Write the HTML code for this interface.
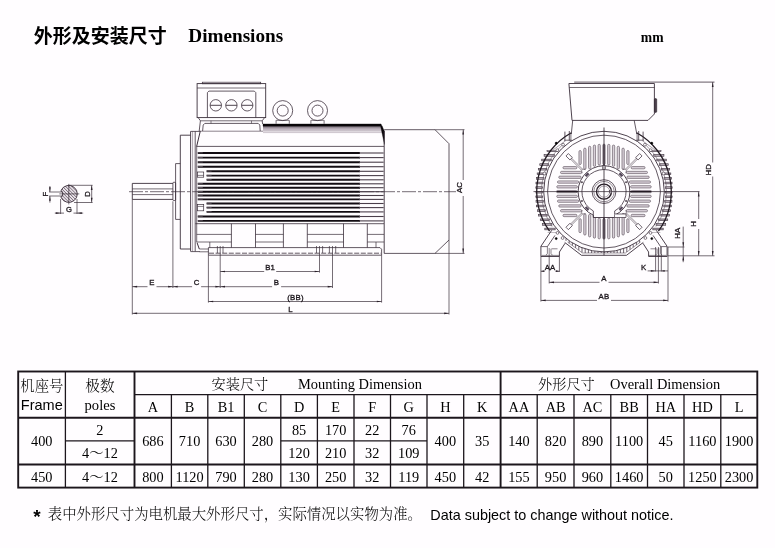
<!DOCTYPE html>
<html lang="zh"><head><meta charset="utf-8"><title>外形及安装尺寸 Dimensions</title>
<style>
html,body{margin:0;padding:0;background:#fffdff;}
body{width:775px;height:548px;overflow:hidden;}
svg{display:block;will-change:transform;opacity:0.999}
.sa{font-family:"Liberation Sans","Noto Sans CJK SC",sans-serif}
.se{font-family:"Liberation Serif","Noto Serif CJK SC",serif}
.he{font-family:"Liberation Sans","Noto Sans CJK SC",sans-serif}
</style></head><body>
<svg width="775" height="548" viewBox="0 0 775 548">
<rect x="0" y="0" width="775" height="548" fill="#fffdff"/>
<line x1="129.00" y1="191.70" x2="456.00" y2="191.70" stroke="#3b2f3b" stroke-width="0.7" stroke-dasharray="14 2 3 2"/>
<path d="M172.90,183.40 L132.30,183.40 L132.30,199.40 L172.90,199.40" fill="none" stroke="#3b2f3b" stroke-width="0.9" stroke-linejoin="round" />
<line x1="132.30" y1="188.90" x2="172.90" y2="188.90" stroke="#3b2f3b" stroke-width="0.7" />
<line x1="132.30" y1="194.60" x2="172.90" y2="194.60" stroke="#3b2f3b" stroke-width="0.7" />
<rect x="172.90" y="182.30" width="2.70" height="18.20" fill="none" stroke="#3b2f3b" stroke-width="0.8" rx="0.8"/>
<path d="M180.30,163.60 L175.60,163.60 L175.60,219.40 L180.30,219.40" fill="none" stroke="#3b2f3b" stroke-width="0.8" stroke-linejoin="round" />
<path d="M190.60,135.20 L180.30,135.20 L180.30,249.00 L190.60,249.00" fill="none" stroke="#3b2f3b" stroke-width="0.9" stroke-linejoin="round" />
<line x1="190.60" y1="131.40" x2="190.60" y2="251.40" stroke="#3b2f3b" stroke-width="0.9" />
<line x1="192.60" y1="131.40" x2="192.60" y2="251.40" stroke="#7a6e7a" stroke-width="0.6" />
<line x1="195.20" y1="131.40" x2="195.20" y2="251.40" stroke="#3b2f3b" stroke-width="0.8" />
<line x1="196.70" y1="146.40" x2="196.70" y2="242.00" stroke="#3b2f3b" stroke-width="0.7" />
<line x1="190.60" y1="131.40" x2="200.20" y2="131.40" stroke="#3b2f3b" stroke-width="0.8" />
<line x1="190.60" y1="251.60" x2="200.00" y2="251.60" stroke="#3b2f3b" stroke-width="0.8" />
<line x1="200.30" y1="131.00" x2="196.60" y2="146.60" stroke="#3b2f3b" stroke-width="1.0" />
<line x1="199.50" y1="131.20" x2="384.00" y2="131.20" stroke="#5a4e5a" stroke-width="0.7" />
<defs><linearGradient id="rg" x1="0" y1="0" x2="0" y2="1"><stop offset="0" stop-color="#7d717d"/><stop offset="0.45" stop-color="#c4bac4"/><stop offset="1" stop-color="#f4eff4"/></linearGradient></defs>
<rect x="263.00" y="126.00" width="119.50" height="6.80" fill="url(#rg)" stroke="none" stroke-width="0" />
<line x1="263.00" y1="127.30" x2="383.00" y2="127.30" stroke="#8a7e8a" stroke-width="0.5" />
<line x1="263.00" y1="128.90" x2="383.00" y2="128.90" stroke="#a99da9" stroke-width="0.5" />
<line x1="263.00" y1="130.70" x2="383.00" y2="130.70" stroke="#b9afb9" stroke-width="0.5" />
<line x1="263.00" y1="132.60" x2="383.00" y2="132.60" stroke="#a99da9" stroke-width="0.5" />
<path d="M263.00,123.90 L381.00,123.90 L384.40,131.00 L384.40,144.50 L380.60,126.20 L263.00,126.20 Z" fill="#0a060a" stroke="#000" stroke-width="0.3" stroke-linejoin="round" />
<line x1="196.70" y1="146.40" x2="384.00" y2="146.40" stroke="#3b2f3b" stroke-width="0.8" />
<line x1="195.40" y1="223.70" x2="384.00" y2="223.70" stroke="#3b2f3b" stroke-width="0.8" />
<line x1="197.80" y1="153.00" x2="360.00" y2="153.00" stroke="#120c12" stroke-width="1.9" />
<line x1="359.00" y1="153.00" x2="383.60" y2="153.00" stroke="#4a3e4a" stroke-width="1.1" />
<line x1="197.80" y1="152.80" x2="202.80" y2="152.80" stroke="#6a5e6a" stroke-width="0.8" />
<line x1="197.80" y1="157.60" x2="360.00" y2="157.60" stroke="#120c12" stroke-width="1.9" />
<line x1="359.00" y1="157.60" x2="383.60" y2="157.60" stroke="#4a3e4a" stroke-width="1.1" />
<line x1="197.80" y1="157.40" x2="202.80" y2="157.40" stroke="#6a5e6a" stroke-width="0.8" />
<line x1="197.80" y1="162.20" x2="360.00" y2="162.20" stroke="#120c12" stroke-width="1.9" />
<line x1="359.00" y1="162.20" x2="383.60" y2="162.20" stroke="#4a3e4a" stroke-width="1.1" />
<line x1="197.80" y1="162.00" x2="202.80" y2="162.00" stroke="#6a5e6a" stroke-width="0.8" />
<line x1="197.80" y1="166.70" x2="360.00" y2="166.70" stroke="#120c12" stroke-width="1.9" />
<line x1="359.00" y1="166.70" x2="383.60" y2="166.70" stroke="#4a3e4a" stroke-width="1.1" />
<line x1="197.80" y1="166.50" x2="202.80" y2="166.50" stroke="#6a5e6a" stroke-width="0.8" />
<line x1="206.60" y1="171.30" x2="360.00" y2="171.30" stroke="#120c12" stroke-width="1.9" />
<line x1="359.00" y1="171.30" x2="383.60" y2="171.30" stroke="#4a3e4a" stroke-width="1.1" />
<line x1="206.60" y1="171.10" x2="211.60" y2="171.10" stroke="#6a5e6a" stroke-width="0.8" />
<line x1="206.60" y1="175.60" x2="360.00" y2="175.60" stroke="#120c12" stroke-width="1.9" />
<line x1="359.00" y1="175.60" x2="383.60" y2="175.60" stroke="#4a3e4a" stroke-width="1.1" />
<line x1="206.60" y1="175.40" x2="211.60" y2="175.40" stroke="#6a5e6a" stroke-width="0.8" />
<line x1="206.60" y1="179.80" x2="360.00" y2="179.80" stroke="#120c12" stroke-width="1.9" />
<line x1="359.00" y1="179.80" x2="383.60" y2="179.80" stroke="#4a3e4a" stroke-width="1.1" />
<line x1="206.60" y1="179.60" x2="211.60" y2="179.60" stroke="#6a5e6a" stroke-width="0.8" />
<line x1="197.80" y1="183.80" x2="360.00" y2="183.80" stroke="#120c12" stroke-width="1.9" />
<line x1="359.00" y1="183.80" x2="383.60" y2="183.80" stroke="#4a3e4a" stroke-width="1.1" />
<line x1="197.80" y1="183.60" x2="202.80" y2="183.60" stroke="#6a5e6a" stroke-width="0.8" />
<line x1="197.80" y1="187.70" x2="360.00" y2="187.70" stroke="#120c12" stroke-width="1.9" />
<line x1="359.00" y1="187.70" x2="383.60" y2="187.70" stroke="#4a3e4a" stroke-width="1.1" />
<line x1="197.80" y1="187.50" x2="202.80" y2="187.50" stroke="#6a5e6a" stroke-width="0.8" />
<line x1="197.80" y1="191.70" x2="360.00" y2="191.70" stroke="#120c12" stroke-width="1.9" />
<line x1="359.00" y1="191.70" x2="383.60" y2="191.70" stroke="#4a3e4a" stroke-width="1.1" />
<line x1="197.80" y1="191.50" x2="202.80" y2="191.50" stroke="#6a5e6a" stroke-width="0.8" />
<line x1="197.80" y1="195.50" x2="360.00" y2="195.50" stroke="#120c12" stroke-width="1.9" />
<line x1="359.00" y1="195.50" x2="383.60" y2="195.50" stroke="#4a3e4a" stroke-width="1.1" />
<line x1="197.80" y1="195.30" x2="202.80" y2="195.30" stroke="#6a5e6a" stroke-width="0.8" />
<line x1="197.80" y1="199.40" x2="360.00" y2="199.40" stroke="#120c12" stroke-width="1.9" />
<line x1="359.00" y1="199.40" x2="383.60" y2="199.40" stroke="#4a3e4a" stroke-width="1.1" />
<line x1="197.80" y1="199.20" x2="202.80" y2="199.20" stroke="#6a5e6a" stroke-width="0.8" />
<line x1="206.60" y1="203.50" x2="360.00" y2="203.50" stroke="#120c12" stroke-width="1.9" />
<line x1="359.00" y1="203.50" x2="383.60" y2="203.50" stroke="#4a3e4a" stroke-width="1.1" />
<line x1="206.60" y1="203.30" x2="211.60" y2="203.30" stroke="#6a5e6a" stroke-width="0.8" />
<line x1="206.60" y1="207.60" x2="360.00" y2="207.60" stroke="#120c12" stroke-width="1.9" />
<line x1="359.00" y1="207.60" x2="383.60" y2="207.60" stroke="#4a3e4a" stroke-width="1.1" />
<line x1="206.60" y1="207.40" x2="211.60" y2="207.40" stroke="#6a5e6a" stroke-width="0.8" />
<line x1="206.60" y1="211.90" x2="360.00" y2="211.90" stroke="#120c12" stroke-width="1.9" />
<line x1="359.00" y1="211.90" x2="383.60" y2="211.90" stroke="#4a3e4a" stroke-width="1.1" />
<line x1="206.60" y1="211.70" x2="211.60" y2="211.70" stroke="#6a5e6a" stroke-width="0.8" />
<line x1="197.80" y1="216.50" x2="360.00" y2="216.50" stroke="#120c12" stroke-width="1.9" />
<line x1="359.00" y1="216.50" x2="383.60" y2="216.50" stroke="#4a3e4a" stroke-width="1.1" />
<line x1="197.80" y1="216.30" x2="202.80" y2="216.30" stroke="#6a5e6a" stroke-width="0.8" />
<line x1="197.80" y1="220.90" x2="360.00" y2="220.90" stroke="#120c12" stroke-width="1.9" />
<line x1="359.00" y1="220.90" x2="383.60" y2="220.90" stroke="#4a3e4a" stroke-width="1.1" />
<line x1="197.80" y1="220.70" x2="202.80" y2="220.70" stroke="#6a5e6a" stroke-width="0.8" />
<rect x="197.50" y="172.00" width="6.20" height="5.20" fill="none" stroke="#3b2f3b" stroke-width="0.7" />
<line x1="197.50" y1="175.40" x2="203.70" y2="175.40" stroke="#3b2f3b" stroke-width="0.6" />
<rect x="197.50" y="204.40" width="6.20" height="6.40" fill="none" stroke="#3b2f3b" stroke-width="0.7" />
<line x1="197.50" y1="206.40" x2="203.70" y2="206.40" stroke="#3b2f3b" stroke-width="0.6" />
<line x1="384.20" y1="131.00" x2="384.20" y2="253.40" stroke="#3b2f3b" stroke-width="0.9" />
<line x1="231.40" y1="223.70" x2="231.40" y2="247.60" stroke="#3b2f3b" stroke-width="0.8" />
<line x1="255.50" y1="223.70" x2="255.50" y2="247.60" stroke="#3b2f3b" stroke-width="0.8" />
<line x1="283.40" y1="223.70" x2="283.40" y2="247.60" stroke="#3b2f3b" stroke-width="0.8" />
<line x1="307.30" y1="223.70" x2="307.30" y2="247.60" stroke="#3b2f3b" stroke-width="0.8" />
<line x1="343.50" y1="223.70" x2="343.50" y2="247.60" stroke="#3b2f3b" stroke-width="0.8" />
<line x1="367.30" y1="223.70" x2="367.30" y2="247.60" stroke="#3b2f3b" stroke-width="0.8" />
<line x1="196.70" y1="234.40" x2="231.40" y2="234.40" stroke="#3b2f3b" stroke-width="0.7" />
<line x1="196.70" y1="242.00" x2="231.40" y2="242.00" stroke="#3b2f3b" stroke-width="0.7" />
<line x1="255.50" y1="234.40" x2="283.40" y2="234.40" stroke="#3b2f3b" stroke-width="0.7" />
<line x1="255.50" y1="242.00" x2="283.40" y2="242.00" stroke="#3b2f3b" stroke-width="0.7" />
<line x1="307.30" y1="234.40" x2="343.50" y2="234.40" stroke="#3b2f3b" stroke-width="0.7" />
<line x1="307.30" y1="242.00" x2="343.50" y2="242.00" stroke="#3b2f3b" stroke-width="0.7" />
<line x1="367.30" y1="234.40" x2="384.00" y2="234.40" stroke="#3b2f3b" stroke-width="0.7" />
<line x1="367.30" y1="242.00" x2="384.00" y2="242.00" stroke="#3b2f3b" stroke-width="0.7" />
<line x1="376.00" y1="242.00" x2="376.00" y2="247.60" stroke="#3b2f3b" stroke-width="0.7" />
<line x1="209.80" y1="242.00" x2="209.80" y2="247.60" stroke="#3b2f3b" stroke-width="0.7" />
<path d="M208.40,255.20 L208.40,247.60 L380.00,247.60 L381.60,249.20 L381.60,255.20" fill="none" stroke="#3b2f3b" stroke-width="0.8" stroke-linejoin="round" />
<line x1="208.40" y1="255.20" x2="381.60" y2="255.20" stroke="#3b2f3b" stroke-width="0.8" />
<line x1="209.00" y1="253.20" x2="381.00" y2="253.20" stroke="#3b2f3b" stroke-width="0.8" stroke-dasharray="5 1.6"/>
<line x1="197.00" y1="242.60" x2="199.30" y2="249.00" stroke="#3b2f3b" stroke-width="1.0" />
<line x1="199.30" y1="249.00" x2="208.40" y2="249.00" stroke="#3b2f3b" stroke-width="0.7" />
<line x1="199.60" y1="251.80" x2="208.40" y2="251.80" stroke="#3b2f3b" stroke-width="0.7" />
<line x1="217.40" y1="246.00" x2="217.40" y2="253.00" stroke="#3b2f3b" stroke-width="0.7" />
<line x1="223.00" y1="246.00" x2="223.00" y2="253.00" stroke="#3b2f3b" stroke-width="0.7" />
<line x1="316.50" y1="246.00" x2="316.50" y2="253.00" stroke="#3b2f3b" stroke-width="0.7" />
<line x1="322.60" y1="246.00" x2="322.60" y2="253.00" stroke="#3b2f3b" stroke-width="0.7" />
<line x1="329.40" y1="246.00" x2="329.40" y2="253.00" stroke="#3b2f3b" stroke-width="0.7" />
<line x1="335.70" y1="246.00" x2="335.70" y2="253.00" stroke="#3b2f3b" stroke-width="0.7" />
<rect x="202.30" y="82.20" width="58.40" height="1.60" fill="none" stroke="#3b2f3b" stroke-width="0.7" />
<rect x="197.10" y="83.60" width="68.60" height="34.00" fill="none" stroke="#3b2f3b" stroke-width="0.9" />
<line x1="197.10" y1="88.00" x2="265.70" y2="88.00" stroke="#3b2f3b" stroke-width="0.7" />
<path d="M207.40,117.60 L207.40,92.60 L208.90,91.10 L254.30,91.10 L255.80,92.60 L255.80,117.60" fill="none" stroke="#3b2f3b" stroke-width="0.8" stroke-linejoin="round" />
<circle cx="215.80" cy="105.30" r="5.70" fill="none" stroke="#3b2f3b" stroke-width="0.8" />
<line x1="210.20" y1="105.30" x2="221.40" y2="105.30" stroke="#3b2f3b" stroke-width="0.9" />
<circle cx="231.40" cy="105.30" r="5.70" fill="none" stroke="#3b2f3b" stroke-width="0.8" />
<line x1="225.80" y1="105.30" x2="237.00" y2="105.30" stroke="#3b2f3b" stroke-width="0.9" />
<circle cx="247.20" cy="105.30" r="5.70" fill="none" stroke="#3b2f3b" stroke-width="0.8" />
<line x1="241.60" y1="105.30" x2="252.80" y2="105.30" stroke="#3b2f3b" stroke-width="0.9" />
<path d="M198.20,117.60 L200.40,120.80 L199.20,131.00" fill="none" stroke="#3b2f3b" stroke-width="0.8" stroke-linejoin="round" />
<path d="M264.60,117.60 L262.20,120.80 L262.60,124.00" fill="none" stroke="#3b2f3b" stroke-width="0.8" stroke-linejoin="round" />
<line x1="200.40" y1="120.80" x2="262.20" y2="120.80" stroke="#3b2f3b" stroke-width="0.7" />
<path d="M202.60,131.00 L203.20,125.00 L204.80,123.40 L258.20,123.40 L259.80,125.00 L260.20,131.00" fill="none" stroke="#3b2f3b" stroke-width="0.8" stroke-linejoin="round" />
<line x1="211.00" y1="120.80" x2="211.00" y2="123.40" stroke="#3b2f3b" stroke-width="0.6" />
<line x1="251.50" y1="120.80" x2="251.50" y2="123.40" stroke="#3b2f3b" stroke-width="0.6" />
<circle cx="282.70" cy="110.60" r="10.00" fill="none" stroke="#3b2f3b" stroke-width="0.8" />
<circle cx="282.70" cy="110.60" r="5.50" fill="none" stroke="#3b2f3b" stroke-width="0.8" />
<path d="M276.10,123.80 L276.10,120.60 L277.10,119.60" fill="none" stroke="#3b2f3b" stroke-width="0.7" stroke-linejoin="round" />
<path d="M289.30,123.80 L289.30,120.60 L288.30,119.60" fill="none" stroke="#3b2f3b" stroke-width="0.7" stroke-linejoin="round" />
<line x1="276.50" y1="120.40" x2="288.90" y2="120.40" stroke="#3b2f3b" stroke-width="0.6" />
<circle cx="317.50" cy="110.60" r="10.00" fill="none" stroke="#3b2f3b" stroke-width="0.8" />
<circle cx="317.50" cy="110.60" r="5.50" fill="none" stroke="#3b2f3b" stroke-width="0.8" />
<path d="M310.90,123.80 L310.90,120.60 L311.90,119.60" fill="none" stroke="#3b2f3b" stroke-width="0.7" stroke-linejoin="round" />
<path d="M324.10,123.80 L324.10,120.60 L323.10,119.60" fill="none" stroke="#3b2f3b" stroke-width="0.7" stroke-linejoin="round" />
<line x1="311.30" y1="120.40" x2="323.70" y2="120.40" stroke="#3b2f3b" stroke-width="0.6" />
<path d="M384.20,129.70 L435.00,129.70 L449.00,143.70 L449.00,240.00 L435.00,253.40 L384.20,253.40" fill="none" stroke="#3b2f3b" stroke-width="0.8" stroke-linejoin="round" />
<line x1="435.00" y1="129.70" x2="464.50" y2="129.70" stroke="#3b2f3b" stroke-width="0.7" />
<line x1="435.00" y1="253.40" x2="464.50" y2="253.40" stroke="#3b2f3b" stroke-width="0.7" />
<line x1="463.20" y1="129.70" x2="463.20" y2="180.00" stroke="#3b2f3b" stroke-width="0.7" />
<line x1="463.20" y1="196.00" x2="463.20" y2="253.40" stroke="#3b2f3b" stroke-width="0.7" />
<polygon points="463.20,129.70 462.35,134.50 464.05,134.50" fill="#2a202a"/>
<polygon points="463.20,253.40 462.35,248.60 464.05,248.60" fill="#2a202a"/>
<text class="sa" x="461.70" y="187.60" font-size="7.8" text-anchor="middle" font-weight="normal" fill="#1a141a" transform="rotate(-90 461.70 187.60)"  stroke="#1a141a" stroke-width="0.3">AC</text>
<line x1="132.30" y1="199.40" x2="132.30" y2="314.50" stroke="#3b2f3b" stroke-width="0.7" />
<line x1="172.90" y1="201.30" x2="172.90" y2="288.00" stroke="#3b2f3b" stroke-width="0.7" />
<line x1="220.20" y1="246.00" x2="220.20" y2="288.00" stroke="#3b2f3b" stroke-width="0.7" />
<line x1="319.50" y1="246.00" x2="319.50" y2="272.60" stroke="#3b2f3b" stroke-width="0.7" />
<line x1="332.50" y1="246.00" x2="332.50" y2="288.00" stroke="#3b2f3b" stroke-width="0.7" />
<line x1="208.40" y1="255.20" x2="208.40" y2="302.60" stroke="#3b2f3b" stroke-width="0.7" />
<line x1="381.60" y1="255.20" x2="381.60" y2="302.60" stroke="#3b2f3b" stroke-width="0.7" />
<line x1="449.00" y1="240.00" x2="449.00" y2="314.50" stroke="#3b2f3b" stroke-width="0.7" />
<line x1="220.20" y1="271.50" x2="264.20" y2="271.50" stroke="#3b2f3b" stroke-width="0.7" />
<line x1="276.20" y1="271.50" x2="319.50" y2="271.50" stroke="#3b2f3b" stroke-width="0.7" />
<polygon points="220.20,271.50 225.00,270.65 225.00,272.35" fill="#2a202a"/>
<polygon points="319.50,271.50 314.70,270.65 314.70,272.35" fill="#2a202a"/>
<text class="sa" x="270.20" y="269.70" font-size="7.8" text-anchor="middle" font-weight="normal" fill="#1a141a" letter-spacing="0.25" stroke="#1a141a" stroke-width="0.3">B1</text>
<line x1="132.30" y1="286.70" x2="147.50" y2="286.70" stroke="#3b2f3b" stroke-width="0.7" />
<line x1="156.50" y1="286.70" x2="172.90" y2="286.70" stroke="#3b2f3b" stroke-width="0.7" />
<polygon points="132.30,286.70 137.10,285.85 137.10,287.55" fill="#2a202a"/>
<polygon points="172.90,286.70 168.10,285.85 168.10,287.55" fill="#2a202a"/>
<text class="sa" x="152.00" y="284.90" font-size="7.8" text-anchor="middle" font-weight="normal" fill="#1a141a" letter-spacing="0.25" stroke="#1a141a" stroke-width="0.3">E</text>
<line x1="172.90" y1="286.70" x2="192.10" y2="286.70" stroke="#3b2f3b" stroke-width="0.7" />
<line x1="201.10" y1="286.70" x2="220.20" y2="286.70" stroke="#3b2f3b" stroke-width="0.7" />
<polygon points="172.90,286.70 177.70,285.85 177.70,287.55" fill="#2a202a"/>
<polygon points="220.20,286.70 215.40,285.85 215.40,287.55" fill="#2a202a"/>
<text class="sa" x="196.60" y="284.90" font-size="7.8" text-anchor="middle" font-weight="normal" fill="#1a141a" letter-spacing="0.25" stroke="#1a141a" stroke-width="0.3">C</text>
<line x1="220.20" y1="286.70" x2="272.10" y2="286.70" stroke="#3b2f3b" stroke-width="0.7" />
<line x1="281.10" y1="286.70" x2="332.50" y2="286.70" stroke="#3b2f3b" stroke-width="0.7" />
<polygon points="220.20,286.70 225.00,285.85 225.00,287.55" fill="#2a202a"/>
<polygon points="332.50,286.70 327.70,285.85 327.70,287.55" fill="#2a202a"/>
<text class="sa" x="276.60" y="284.90" font-size="7.8" text-anchor="middle" font-weight="normal" fill="#1a141a" letter-spacing="0.25" stroke="#1a141a" stroke-width="0.3">B</text>
<line x1="208.40" y1="301.50" x2="381.60" y2="301.50" stroke="#3b2f3b" stroke-width="0.7" />
<polygon points="208.40,301.50 213.20,300.65 213.20,302.35" fill="#2a202a"/>
<polygon points="381.60,301.50 376.80,300.65 376.80,302.35" fill="#2a202a"/>
<text class="sa" x="295.50" y="299.70" font-size="7.8" text-anchor="middle" font-weight="normal" fill="#1a141a" letter-spacing="0.25" stroke="#1a141a" stroke-width="0.3">(BB)</text>
<line x1="132.30" y1="313.30" x2="449.00" y2="313.30" stroke="#3b2f3b" stroke-width="0.7" />
<polygon points="132.30,313.30 137.10,312.45 137.10,314.15" fill="#2a202a"/>
<polygon points="449.00,313.30 444.20,312.45 444.20,314.15" fill="#2a202a"/>
<text class="sa" x="290.50" y="311.50" font-size="7.8" text-anchor="middle" font-weight="normal" fill="#1a141a" letter-spacing="0.25" stroke="#1a141a" stroke-width="0.3">L</text>
<clipPath id="ofc"><path d="M524.0,150.1 H684.0 V232.6 H524.0 Z"/></clipPath>
<g clip-path="url(#ofc)">
<rect x="550.55" y="145.35" width="11.97" height="1.70" fill="#b9afb9" stroke="#3b2f3b" stroke-width="0.6" />
<rect x="645.49" y="145.35" width="11.97" height="1.70" fill="#b9afb9" stroke="#3b2f3b" stroke-width="0.6" />
<rect x="547.00" y="149.95" width="10.98" height="1.70" fill="#b9afb9" stroke="#3b2f3b" stroke-width="0.6" />
<rect x="650.02" y="149.95" width="10.98" height="1.70" fill="#b9afb9" stroke="#3b2f3b" stroke-width="0.6" />
<rect x="544.09" y="154.55" width="10.20" height="1.70" fill="#b9afb9" stroke="#3b2f3b" stroke-width="0.6" />
<rect x="653.72" y="154.55" width="10.20" height="1.70" fill="#b9afb9" stroke="#3b2f3b" stroke-width="0.6" />
<rect x="541.71" y="159.15" width="9.53" height="1.70" fill="#b9afb9" stroke="#3b2f3b" stroke-width="0.6" />
<rect x="656.76" y="159.15" width="9.53" height="1.70" fill="#b9afb9" stroke="#3b2f3b" stroke-width="0.6" />
<rect x="539.79" y="163.75" width="8.95" height="1.70" fill="#b9afb9" stroke="#3b2f3b" stroke-width="0.6" />
<rect x="659.26" y="163.75" width="8.95" height="1.70" fill="#b9afb9" stroke="#3b2f3b" stroke-width="0.6" />
<rect x="538.29" y="168.35" width="8.44" height="1.70" fill="#b9afb9" stroke="#3b2f3b" stroke-width="0.6" />
<rect x="661.28" y="168.35" width="8.44" height="1.70" fill="#b9afb9" stroke="#3b2f3b" stroke-width="0.6" />
<rect x="537.16" y="172.95" width="7.97" height="1.70" fill="#b9afb9" stroke="#3b2f3b" stroke-width="0.6" />
<rect x="662.87" y="172.95" width="7.97" height="1.70" fill="#b9afb9" stroke="#3b2f3b" stroke-width="0.6" />
<rect x="536.39" y="177.55" width="7.54" height="1.70" fill="#b9afb9" stroke="#3b2f3b" stroke-width="0.6" />
<rect x="664.07" y="177.55" width="7.54" height="1.70" fill="#b9afb9" stroke="#3b2f3b" stroke-width="0.6" />
<rect x="535.95" y="182.15" width="7.15" height="1.70" fill="#b9afb9" stroke="#3b2f3b" stroke-width="0.6" />
<rect x="664.90" y="182.15" width="7.15" height="1.70" fill="#b9afb9" stroke="#3b2f3b" stroke-width="0.6" />
<rect x="535.84" y="186.75" width="6.79" height="1.70" fill="#b9afb9" stroke="#3b2f3b" stroke-width="0.6" />
<rect x="665.37" y="186.75" width="6.79" height="1.70" fill="#b9afb9" stroke="#3b2f3b" stroke-width="0.6" />
<rect x="535.96" y="191.35" width="6.54" height="1.70" fill="#b9afb9" stroke="#3b2f3b" stroke-width="0.6" />
<rect x="665.50" y="191.35" width="6.54" height="1.70" fill="#b9afb9" stroke="#3b2f3b" stroke-width="0.6" />
<rect x="535.84" y="195.95" width="6.88" height="1.70" fill="#b9afb9" stroke="#3b2f3b" stroke-width="0.6" />
<rect x="665.28" y="195.95" width="6.88" height="1.70" fill="#b9afb9" stroke="#3b2f3b" stroke-width="0.6" />
<rect x="536.03" y="200.55" width="7.25" height="1.70" fill="#b9afb9" stroke="#3b2f3b" stroke-width="0.6" />
<rect x="664.71" y="200.55" width="7.25" height="1.70" fill="#b9afb9" stroke="#3b2f3b" stroke-width="0.6" />
<rect x="536.56" y="205.15" width="7.65" height="1.70" fill="#b9afb9" stroke="#3b2f3b" stroke-width="0.6" />
<rect x="663.79" y="205.15" width="7.65" height="1.70" fill="#b9afb9" stroke="#3b2f3b" stroke-width="0.6" />
<rect x="537.42" y="209.75" width="8.09" height="1.70" fill="#b9afb9" stroke="#3b2f3b" stroke-width="0.6" />
<rect x="662.49" y="209.75" width="8.09" height="1.70" fill="#b9afb9" stroke="#3b2f3b" stroke-width="0.6" />
<rect x="538.64" y="214.35" width="8.57" height="1.70" fill="#b9afb9" stroke="#3b2f3b" stroke-width="0.6" />
<rect x="660.79" y="214.35" width="8.57" height="1.70" fill="#b9afb9" stroke="#3b2f3b" stroke-width="0.6" />
<rect x="540.25" y="218.95" width="9.10" height="1.70" fill="#b9afb9" stroke="#3b2f3b" stroke-width="0.6" />
<rect x="658.65" y="218.95" width="9.10" height="1.70" fill="#b9afb9" stroke="#3b2f3b" stroke-width="0.6" />
<rect x="542.28" y="223.55" width="9.70" height="1.70" fill="#b9afb9" stroke="#3b2f3b" stroke-width="0.6" />
<rect x="656.02" y="223.55" width="9.70" height="1.70" fill="#b9afb9" stroke="#3b2f3b" stroke-width="0.6" />
<rect x="544.79" y="228.15" width="10.39" height="1.70" fill="#b9afb9" stroke="#3b2f3b" stroke-width="0.6" />
<rect x="652.82" y="228.15" width="10.39" height="1.70" fill="#b9afb9" stroke="#3b2f3b" stroke-width="0.6" />
<rect x="547.86" y="232.75" width="11.22" height="1.70" fill="#b9afb9" stroke="#3b2f3b" stroke-width="0.6" />
<rect x="648.92" y="232.75" width="11.22" height="1.70" fill="#b9afb9" stroke="#3b2f3b" stroke-width="0.6" />
</g>
<path d="M549.55,231.16 A67.30,67.30 0 0 1 571.37,132.74" fill="none" stroke="#221a22" stroke-width="1.3"/>
<path d="M636.63,132.74 A67.30,67.30 0 0 1 658.45,231.16" fill="none" stroke="#221a22" stroke-width="1.3"/>
<path d="M552.10,226.61 A62.60,62.60 0 0 1 562.11,145.08" fill="none" stroke="#6a5e6a" stroke-width="0.6"/>
<path d="M645.89,145.08 A62.60,62.60 0 0 1 655.90,226.61" fill="none" stroke="#6a5e6a" stroke-width="0.6"/>
<circle cx="604.00" cy="191.60" r="60.30" fill="#fffdff" stroke="#3b2f3b" stroke-width="0.9" />
<circle cx="604.00" cy="191.60" r="56.40" fill="none" stroke="#3b2f3b" stroke-width="0.8" />
<rect x="578.95" y="150.55" width="2.30" height="13.95" fill="#d9d1d9" stroke="#564a56" stroke-width="0.6" rx="1.1"/>
<rect x="562.95" y="166.55" width="13.95" height="2.30" fill="#d9d1d9" stroke="#564a56" stroke-width="0.6" rx="1.1"/>
<rect x="578.95" y="218.70" width="2.30" height="13.95" fill="#d9d1d9" stroke="#564a56" stroke-width="0.6" rx="1.1"/>
<rect x="631.10" y="166.55" width="13.95" height="2.30" fill="#d9d1d9" stroke="#564a56" stroke-width="0.6" rx="1.1"/>
<rect x="583.73" y="148.12" width="2.30" height="21.16" fill="#d9d1d9" stroke="#564a56" stroke-width="0.6" rx="1.1"/>
<rect x="560.52" y="171.33" width="21.16" height="2.30" fill="#d9d1d9" stroke="#564a56" stroke-width="0.6" rx="1.1"/>
<rect x="583.73" y="213.92" width="2.30" height="21.16" fill="#d9d1d9" stroke="#564a56" stroke-width="0.6" rx="1.1"/>
<rect x="626.32" y="171.33" width="21.16" height="2.30" fill="#d9d1d9" stroke="#564a56" stroke-width="0.6" rx="1.1"/>
<rect x="588.51" y="146.32" width="2.30" height="22.41" fill="#d9d1d9" stroke="#564a56" stroke-width="0.6" rx="1.1"/>
<rect x="558.72" y="176.11" width="22.41" height="2.30" fill="#d9d1d9" stroke="#564a56" stroke-width="0.6" rx="1.1"/>
<rect x="588.51" y="214.48" width="2.30" height="22.41" fill="#d9d1d9" stroke="#564a56" stroke-width="0.6" rx="1.1"/>
<rect x="626.88" y="176.11" width="22.41" height="2.30" fill="#d9d1d9" stroke="#564a56" stroke-width="0.6" rx="1.1"/>
<rect x="593.29" y="145.07" width="2.30" height="21.28" fill="#d9d1d9" stroke="#564a56" stroke-width="0.6" rx="1.1"/>
<rect x="557.47" y="180.89" width="21.28" height="2.30" fill="#d9d1d9" stroke="#564a56" stroke-width="0.6" rx="1.1"/>
<rect x="593.29" y="216.85" width="2.30" height="21.28" fill="#d9d1d9" stroke="#564a56" stroke-width="0.6" rx="1.1"/>
<rect x="629.25" y="180.89" width="21.28" height="2.30" fill="#d9d1d9" stroke="#564a56" stroke-width="0.6" rx="1.1"/>
<rect x="598.07" y="144.34" width="2.30" height="20.69" fill="#d9d1d9" stroke="#564a56" stroke-width="0.6" rx="1.1"/>
<rect x="556.74" y="185.67" width="20.69" height="2.30" fill="#d9d1d9" stroke="#564a56" stroke-width="0.6" rx="1.1"/>
<rect x="598.07" y="218.17" width="2.30" height="20.69" fill="#d9d1d9" stroke="#564a56" stroke-width="0.6" rx="1.1"/>
<rect x="630.57" y="185.67" width="20.69" height="2.30" fill="#d9d1d9" stroke="#564a56" stroke-width="0.6" rx="1.1"/>
<rect x="602.85" y="144.10" width="2.30" height="20.50" fill="#d9d1d9" stroke="#564a56" stroke-width="0.6" rx="1.1"/>
<rect x="556.50" y="190.45" width="20.50" height="2.30" fill="#d9d1d9" stroke="#564a56" stroke-width="0.6" rx="1.1"/>
<rect x="602.85" y="218.60" width="2.30" height="20.50" fill="#d9d1d9" stroke="#564a56" stroke-width="0.6" rx="1.1"/>
<rect x="631.00" y="190.45" width="20.50" height="2.30" fill="#d9d1d9" stroke="#564a56" stroke-width="0.6" rx="1.1"/>
<rect x="607.63" y="144.34" width="2.30" height="20.69" fill="#d9d1d9" stroke="#564a56" stroke-width="0.6" rx="1.1"/>
<rect x="556.74" y="195.23" width="20.69" height="2.30" fill="#d9d1d9" stroke="#564a56" stroke-width="0.6" rx="1.1"/>
<rect x="607.63" y="218.17" width="2.30" height="20.69" fill="#d9d1d9" stroke="#564a56" stroke-width="0.6" rx="1.1"/>
<rect x="630.57" y="195.23" width="20.69" height="2.30" fill="#d9d1d9" stroke="#564a56" stroke-width="0.6" rx="1.1"/>
<rect x="612.41" y="145.07" width="2.30" height="21.28" fill="#d9d1d9" stroke="#564a56" stroke-width="0.6" rx="1.1"/>
<rect x="557.47" y="200.01" width="21.28" height="2.30" fill="#d9d1d9" stroke="#564a56" stroke-width="0.6" rx="1.1"/>
<rect x="612.41" y="216.85" width="2.30" height="21.28" fill="#d9d1d9" stroke="#564a56" stroke-width="0.6" rx="1.1"/>
<rect x="629.25" y="200.01" width="21.28" height="2.30" fill="#d9d1d9" stroke="#564a56" stroke-width="0.6" rx="1.1"/>
<rect x="617.19" y="146.32" width="2.30" height="22.41" fill="#d9d1d9" stroke="#564a56" stroke-width="0.6" rx="1.1"/>
<rect x="558.72" y="204.79" width="22.41" height="2.30" fill="#d9d1d9" stroke="#564a56" stroke-width="0.6" rx="1.1"/>
<rect x="617.19" y="214.48" width="2.30" height="22.41" fill="#d9d1d9" stroke="#564a56" stroke-width="0.6" rx="1.1"/>
<rect x="626.88" y="204.79" width="22.41" height="2.30" fill="#d9d1d9" stroke="#564a56" stroke-width="0.6" rx="1.1"/>
<rect x="621.97" y="148.12" width="2.30" height="21.16" fill="#d9d1d9" stroke="#564a56" stroke-width="0.6" rx="1.1"/>
<rect x="560.52" y="209.57" width="21.16" height="2.30" fill="#d9d1d9" stroke="#564a56" stroke-width="0.6" rx="1.1"/>
<rect x="621.97" y="213.92" width="2.30" height="21.16" fill="#d9d1d9" stroke="#564a56" stroke-width="0.6" rx="1.1"/>
<rect x="626.32" y="209.57" width="21.16" height="2.30" fill="#d9d1d9" stroke="#564a56" stroke-width="0.6" rx="1.1"/>
<rect x="626.75" y="150.55" width="2.30" height="13.95" fill="#d9d1d9" stroke="#564a56" stroke-width="0.6" rx="1.1"/>
<rect x="562.95" y="214.35" width="13.95" height="2.30" fill="#d9d1d9" stroke="#564a56" stroke-width="0.6" rx="1.1"/>
<rect x="626.75" y="218.70" width="2.30" height="13.95" fill="#d9d1d9" stroke="#564a56" stroke-width="0.6" rx="1.1"/>
<rect x="631.10" y="214.35" width="13.95" height="2.30" fill="#d9d1d9" stroke="#564a56" stroke-width="0.6" rx="1.1"/>
<line x1="557.00" y1="191.60" x2="578.00" y2="191.60" stroke="#1a141a" stroke-width="1.2" />
<line x1="630.00" y1="191.60" x2="651.00" y2="191.60" stroke="#1a141a" stroke-width="1.2" />
<line x1="604.00" y1="144.60" x2="604.00" y2="165.60" stroke="#2a202a" stroke-width="1.0" />
<line x1="604.00" y1="217.60" x2="604.00" y2="238.60" stroke="#2a202a" stroke-width="1.0" />
<g transform="rotate(45 604.0 191.6)">
<rect x="635.00" y="190.90" width="16.00" height="1.40" fill="#fffdff" stroke="#564a56" stroke-width="0.6" />
<rect x="650.50" y="189.90" width="5.60" height="3.40" fill="#fffdff" stroke="#3b2f3b" stroke-width="0.7" />
<line x1="635.00" y1="190.90" x2="632.50" y2="189.10" stroke="#564a56" stroke-width="0.6" />
<line x1="635.00" y1="192.30" x2="632.50" y2="194.10" stroke="#564a56" stroke-width="0.6" />
</g>
<g transform="rotate(135 604.0 191.6)">
<rect x="635.00" y="190.90" width="16.00" height="1.40" fill="#fffdff" stroke="#564a56" stroke-width="0.6" />
<rect x="650.50" y="189.90" width="5.60" height="3.40" fill="#fffdff" stroke="#3b2f3b" stroke-width="0.7" />
<line x1="635.00" y1="190.90" x2="632.50" y2="189.10" stroke="#564a56" stroke-width="0.6" />
<line x1="635.00" y1="192.30" x2="632.50" y2="194.10" stroke="#564a56" stroke-width="0.6" />
</g>
<g transform="rotate(225 604.0 191.6)">
<rect x="635.00" y="190.90" width="16.00" height="1.40" fill="#fffdff" stroke="#564a56" stroke-width="0.6" />
<rect x="650.50" y="189.90" width="5.60" height="3.40" fill="#fffdff" stroke="#3b2f3b" stroke-width="0.7" />
<line x1="635.00" y1="190.90" x2="632.50" y2="189.10" stroke="#564a56" stroke-width="0.6" />
<line x1="635.00" y1="192.30" x2="632.50" y2="194.10" stroke="#564a56" stroke-width="0.6" />
</g>
<g transform="rotate(315 604.0 191.6)">
<rect x="635.00" y="190.90" width="16.00" height="1.40" fill="#fffdff" stroke="#564a56" stroke-width="0.6" />
<rect x="650.50" y="189.90" width="5.60" height="3.40" fill="#fffdff" stroke="#3b2f3b" stroke-width="0.7" />
<line x1="635.00" y1="190.90" x2="632.50" y2="189.10" stroke="#564a56" stroke-width="0.6" />
<line x1="635.00" y1="192.30" x2="632.50" y2="194.10" stroke="#564a56" stroke-width="0.6" />
</g>
<path d="M593.30,215.19 A25.9,25.9 0 1 1 614.70,215.19 L614.70,217.50 L593.30,217.50 Z" fill="#fffdff" stroke="#3b2f3b" stroke-width="0.9"/>
<path d="M593.30,210.94 A22.1,22.1 0 1 1 614.70,210.94" fill="none" stroke="#3b2f3b" stroke-width="0.8"/>
<line x1="593.30" y1="210.94" x2="593.30" y2="217.50" stroke="#3b2f3b" stroke-width="0.8" />
<line x1="614.70" y1="210.94" x2="614.70" y2="217.50" stroke="#3b2f3b" stroke-width="0.8" />
<path d="M614.70,214.00 L626.00,214.00 L626.00,217.50 L614.70,217.50" fill="#fffdff" stroke="#3b2f3b" stroke-width="0.7" stroke-linejoin="round" />
<path d="M585.61,176.17 A24.00,24.00 0 0 1 588.57,173.21" fill="none" stroke="#54485a" stroke-width="2.4"/>
<path d="M619.43,173.21 A24.00,24.00 0 0 1 622.39,176.17" fill="none" stroke="#54485a" stroke-width="2.4"/>
<path d="M622.39,207.03 A24.00,24.00 0 0 1 619.43,209.99" fill="none" stroke="#54485a" stroke-width="2.4"/>
<path d="M588.57,209.99 A24.00,24.00 0 0 1 585.61,207.03" fill="none" stroke="#54485a" stroke-width="2.4"/>
<circle cx="581.91" cy="182.22" r="0.70" fill="#3b2f3b" stroke="#3b2f3b" stroke-width="0.5" />
<circle cx="604.00" cy="167.60" r="0.70" fill="#3b2f3b" stroke="#3b2f3b" stroke-width="0.5" />
<circle cx="626.09" cy="182.22" r="0.70" fill="#3b2f3b" stroke="#3b2f3b" stroke-width="0.5" />
<circle cx="626.09" cy="200.98" r="0.70" fill="#3b2f3b" stroke="#3b2f3b" stroke-width="0.5" />
<circle cx="581.91" cy="200.98" r="0.70" fill="#3b2f3b" stroke="#3b2f3b" stroke-width="0.5" />
<rect x="602.40" y="165.70" width="3.20" height="3.80" fill="#fffdff" stroke="#3b2f3b" stroke-width="0.6" />
<circle cx="604.00" cy="191.60" r="11.90" fill="none" stroke="#3b2f3b" stroke-width="0.8" />
<circle cx="604.00" cy="191.60" r="10.20" fill="none" stroke="#6a5e6a" stroke-width="0.7" />
<circle cx="604.00" cy="191.60" r="7.50" fill="none" stroke="#2a202a" stroke-width="1.4" />
<circle cx="604.00" cy="191.60" r="5.60" fill="none" stroke="#7a6e7a" stroke-width="0.6" />
<rect x="609.60" y="190.30" width="2.20" height="2.60" fill="#fffdff" stroke="#3b2f3b" stroke-width="0.5" />
<line x1="604.00" y1="127.50" x2="604.00" y2="255.30" stroke="#2a202a" stroke-width="0.8" />
<line x1="533.50" y1="191.60" x2="699.50" y2="191.60" stroke="#2a202a" stroke-width="0.7" />
<circle cx="557.30" cy="150.20" r="1.40" fill="#fffdff" stroke="#3b2f3b" stroke-width="0.6" />
<circle cx="650.70" cy="150.20" r="1.40" fill="#fffdff" stroke="#3b2f3b" stroke-width="0.6" />
<circle cx="563.10" cy="144.70" r="1.40" fill="#fffdff" stroke="#3b2f3b" stroke-width="0.6" />
<circle cx="644.90" cy="144.70" r="1.40" fill="#fffdff" stroke="#3b2f3b" stroke-width="0.6" />
<circle cx="544.40" cy="173.50" r="1.40" fill="#fffdff" stroke="#3b2f3b" stroke-width="0.6" />
<circle cx="663.60" cy="173.50" r="1.40" fill="#fffdff" stroke="#3b2f3b" stroke-width="0.6" />
<circle cx="557.50" cy="232.90" r="1.40" fill="#fffdff" stroke="#3b2f3b" stroke-width="0.6" />
<circle cx="650.50" cy="232.90" r="1.40" fill="#fffdff" stroke="#3b2f3b" stroke-width="0.6" />
<circle cx="562.60" cy="238.00" r="1.40" fill="#fffdff" stroke="#3b2f3b" stroke-width="0.6" />
<circle cx="645.40" cy="238.00" r="1.40" fill="#fffdff" stroke="#3b2f3b" stroke-width="0.6" />
<circle cx="556.20" cy="143.20" r="1.10" fill="#000" stroke="#000" stroke-width="0.4" />
<circle cx="651.80" cy="143.20" r="1.10" fill="#000" stroke="#000" stroke-width="0.4" />
<circle cx="556.20" cy="238.60" r="1.10" fill="#000" stroke="#000" stroke-width="0.4" />
<circle cx="651.80" cy="238.60" r="1.10" fill="#000" stroke="#000" stroke-width="0.4" />
<path d="M564.70,242.40 L581.50,255.30 L626.50,255.30 L643.30,242.40" fill="none" stroke="#3b2f3b" stroke-width="0.9" stroke-linejoin="round" />
<path d="M567.50,242.00 L582.60,253.00 L625.40,253.00 L640.50,242.00" fill="none" stroke="#6a5e6a" stroke-width="0.6" stroke-linejoin="round" />
<line x1="566.00" y1="238.42" x2="566.00" y2="240.91" stroke="#4a3e4a" stroke-width="0.8" />
<line x1="569.20" y1="240.84" x2="569.20" y2="243.24" stroke="#4a3e4a" stroke-width="0.8" />
<line x1="572.40" y1="242.96" x2="572.40" y2="245.57" stroke="#4a3e4a" stroke-width="0.8" />
<line x1="575.60" y1="244.79" x2="575.60" y2="247.90" stroke="#4a3e4a" stroke-width="0.8" />
<line x1="578.80" y1="246.38" x2="578.80" y2="250.23" stroke="#4a3e4a" stroke-width="0.8" />
<line x1="582.00" y1="247.74" x2="582.00" y2="252.56" stroke="#4a3e4a" stroke-width="0.8" />
<line x1="585.20" y1="248.89" x2="585.20" y2="253.00" stroke="#4a3e4a" stroke-width="0.8" />
<line x1="588.40" y1="249.85" x2="588.40" y2="253.00" stroke="#4a3e4a" stroke-width="0.8" />
<line x1="591.60" y1="250.61" x2="591.60" y2="253.00" stroke="#4a3e4a" stroke-width="0.8" />
<line x1="594.80" y1="251.19" x2="594.80" y2="253.00" stroke="#4a3e4a" stroke-width="0.8" />
<line x1="598.00" y1="251.60" x2="598.00" y2="253.00" stroke="#4a3e4a" stroke-width="0.8" />
<line x1="601.20" y1="251.83" x2="601.20" y2="253.00" stroke="#4a3e4a" stroke-width="0.8" />
<line x1="604.40" y1="251.90" x2="604.40" y2="253.00" stroke="#4a3e4a" stroke-width="0.8" />
<line x1="607.60" y1="251.79" x2="607.60" y2="253.00" stroke="#4a3e4a" stroke-width="0.8" />
<line x1="610.80" y1="251.52" x2="610.80" y2="253.00" stroke="#4a3e4a" stroke-width="0.8" />
<line x1="614.00" y1="251.07" x2="614.00" y2="253.00" stroke="#4a3e4a" stroke-width="0.8" />
<line x1="617.20" y1="250.44" x2="617.20" y2="253.00" stroke="#4a3e4a" stroke-width="0.8" />
<line x1="620.40" y1="249.63" x2="620.40" y2="253.00" stroke="#4a3e4a" stroke-width="0.8" />
<line x1="623.60" y1="248.63" x2="623.60" y2="253.00" stroke="#4a3e4a" stroke-width="0.8" />
<line x1="626.80" y1="247.42" x2="626.80" y2="251.98" stroke="#4a3e4a" stroke-width="0.8" />
<line x1="630.00" y1="246.01" x2="630.00" y2="249.65" stroke="#4a3e4a" stroke-width="0.8" />
<line x1="633.20" y1="244.36" x2="633.20" y2="247.32" stroke="#4a3e4a" stroke-width="0.8" />
<line x1="636.40" y1="242.46" x2="636.40" y2="244.99" stroke="#4a3e4a" stroke-width="0.8" />
<line x1="639.60" y1="240.27" x2="639.60" y2="242.66" stroke="#4a3e4a" stroke-width="0.8" />
<path d="M551.70,230.30 L540.90,246.30 L540.90,256.50 L559.40,256.50 L559.40,252.00 L565.10,243.20" fill="none" stroke="#3b2f3b" stroke-width="0.9" stroke-linejoin="round" />
<path d="M555.00,235.40 L547.40,246.60" fill="none" stroke="#3b2f3b" stroke-width="0.8" stroke-linejoin="round" />
<line x1="540.90" y1="246.60" x2="547.40" y2="246.60" stroke="#3b2f3b" stroke-width="0.7" />
<line x1="551.50" y1="248.80" x2="557.50" y2="248.80" stroke="#3b2f3b" stroke-width="0.6" />
<path d="M547.40,246.60 L547.40,253.50 L546.00,255.20" fill="none" stroke="#3b2f3b" stroke-width="0.6" stroke-linejoin="round" />
<path d="M551.00,248.80 L551.00,253.50 L552.40,255.20" fill="none" stroke="#3b2f3b" stroke-width="0.6" stroke-linejoin="round" />
<line x1="549.20" y1="248.00" x2="549.20" y2="256.50" stroke="#3b2f3b" stroke-width="0.6" />
<line x1="541.50" y1="255.40" x2="559.20" y2="255.40" stroke="#3b2f3b" stroke-width="0.6" />
<path d="M656.30,230.30 L667.10,246.30 L667.10,256.50 L648.60,256.50 L648.60,252.00 L642.90,243.20" fill="none" stroke="#3b2f3b" stroke-width="0.9" stroke-linejoin="round" />
<path d="M653.00,235.40 L660.60,246.60" fill="none" stroke="#3b2f3b" stroke-width="0.8" stroke-linejoin="round" />
<line x1="667.10" y1="246.60" x2="660.60" y2="246.60" stroke="#3b2f3b" stroke-width="0.7" />
<line x1="656.50" y1="248.80" x2="650.50" y2="248.80" stroke="#3b2f3b" stroke-width="0.6" />
<path d="M660.60,246.60 L660.60,253.50 L662.00,255.20" fill="none" stroke="#3b2f3b" stroke-width="0.6" stroke-linejoin="round" />
<path d="M657.00,248.80 L657.00,253.50 L655.60,255.20" fill="none" stroke="#3b2f3b" stroke-width="0.6" stroke-linejoin="round" />
<line x1="658.80" y1="248.00" x2="658.80" y2="256.50" stroke="#3b2f3b" stroke-width="0.6" />
<line x1="666.50" y1="255.40" x2="648.80" y2="255.40" stroke="#3b2f3b" stroke-width="0.6" />
<line x1="574.20" y1="82.10" x2="714.50" y2="82.10" stroke="#3b2f3b" stroke-width="0.8" />
<path d="M568.90,83.50 L654.40,83.50 L654.40,114.00 L648.00,120.40 L572.00,120.40 L568.90,83.50 Z" fill="none" stroke="#3b2f3b" stroke-width="0.9" stroke-linejoin="round" />
<line x1="569.30" y1="87.50" x2="654.40" y2="87.50" stroke="#3b2f3b" stroke-width="0.7" />
<rect x="654.40" y="98.60" width="2.30" height="13.80" fill="#4b3f4b" stroke="#2a202a" stroke-width="0.6" rx="1"/>
<line x1="572.70" y1="120.40" x2="571.30" y2="134.00" stroke="#3b2f3b" stroke-width="0.8" />
<line x1="634.20" y1="120.40" x2="636.80" y2="134.00" stroke="#3b2f3b" stroke-width="0.8" />
<line x1="564.90" y1="131.60" x2="564.90" y2="140.70" stroke="#3b2f3b" stroke-width="0.8" />
<line x1="569.30" y1="131.00" x2="569.30" y2="140.70" stroke="#3b2f3b" stroke-width="0.8" />
<line x1="570.90" y1="133.00" x2="570.90" y2="141.50" stroke="#3b2f3b" stroke-width="0.7" />
<line x1="564.20" y1="140.20" x2="571.50" y2="140.20" stroke="#3b2f3b" stroke-width="0.7" />
<line x1="553.20" y1="149.80" x2="565.70" y2="140.70" stroke="#6a5e6a" stroke-width="0.6" />
<line x1="643.10" y1="131.60" x2="643.10" y2="140.70" stroke="#3b2f3b" stroke-width="0.8" />
<line x1="638.70" y1="131.00" x2="638.70" y2="140.70" stroke="#3b2f3b" stroke-width="0.8" />
<line x1="637.10" y1="133.00" x2="637.10" y2="141.50" stroke="#3b2f3b" stroke-width="0.7" />
<line x1="643.80" y1="140.20" x2="636.50" y2="140.20" stroke="#3b2f3b" stroke-width="0.7" />
<line x1="654.80" y1="149.80" x2="642.30" y2="140.70" stroke="#6a5e6a" stroke-width="0.6" />
<line x1="712.70" y1="82.10" x2="712.70" y2="162.50" stroke="#3b2f3b" stroke-width="0.7" />
<line x1="712.70" y1="176.50" x2="712.70" y2="255.80" stroke="#3b2f3b" stroke-width="0.7" />
<polygon points="712.70,82.10 711.85,86.90 713.55,86.90" fill="#2a202a"/>
<polygon points="712.70,255.80 711.85,251.00 713.55,251.00" fill="#2a202a"/>
<text class="sa" x="710.70" y="169.80" font-size="7.8" text-anchor="middle" font-weight="normal" fill="#1a141a" transform="rotate(-90 710.70 169.80)"  stroke="#1a141a" stroke-width="0.3">HD</text>
<line x1="668.00" y1="255.80" x2="714.50" y2="255.80" stroke="#3b2f3b" stroke-width="0.7" />
<line x1="698.70" y1="191.60" x2="698.70" y2="219.00" stroke="#3b2f3b" stroke-width="0.7" />
<line x1="698.70" y1="229.00" x2="698.70" y2="255.80" stroke="#3b2f3b" stroke-width="0.7" />
<polygon points="698.70,191.60 697.85,196.40 699.55,196.40" fill="#2a202a"/>
<polygon points="698.70,255.80 697.85,251.00 699.55,251.00" fill="#2a202a"/>
<text class="sa" x="695.90" y="224.00" font-size="7.8" text-anchor="middle" font-weight="normal" fill="#1a141a" transform="rotate(-90 695.90 224.00)"  stroke="#1a141a" stroke-width="0.3">H</text>
<line x1="668.00" y1="247.00" x2="684.40" y2="247.00" stroke="#3b2f3b" stroke-width="0.7" />
<line x1="683.20" y1="226.60" x2="683.20" y2="262.20" stroke="#3b2f3b" stroke-width="0.7" />
<polygon points="683.30,247.00 682.45,242.20 684.15,242.20" fill="#2a202a"/>
<polygon points="683.30,255.80 682.45,260.60 684.15,260.60" fill="#2a202a"/>
<text class="sa" x="680.30" y="233.20" font-size="7.8" text-anchor="middle" font-weight="normal" fill="#1a141a" transform="rotate(-90 680.30 233.20)"  stroke="#1a141a" stroke-width="0.3">HA</text>
<line x1="655.60" y1="247.00" x2="655.60" y2="271.50" stroke="#3b2f3b" stroke-width="0.7" />
<line x1="661.30" y1="247.00" x2="661.30" y2="271.50" stroke="#3b2f3b" stroke-width="0.7" />
<line x1="658.40" y1="247.00" x2="658.40" y2="283.50" stroke="#3b2f3b" stroke-width="0.7" />
<line x1="668.00" y1="247.00" x2="668.00" y2="301.60" stroke="#3b2f3b" stroke-width="0.7" />
<line x1="647.60" y1="270.90" x2="668.00" y2="270.90" stroke="#3b2f3b" stroke-width="0.7" />
<polygon points="655.60,270.90 650.80,270.05 650.80,271.75" fill="#2a202a"/>
<polygon points="661.30,270.90 664.70,270.05 664.70,271.75" fill="#2a202a"/>
<text class="sa" x="643.60" y="270.00" font-size="7.8" text-anchor="middle" font-weight="normal" fill="#1a141a"  stroke="#1a141a" stroke-width="0.3">K</text>
<line x1="540.90" y1="256.50" x2="540.90" y2="301.60" stroke="#3b2f3b" stroke-width="0.7" />
<line x1="549.20" y1="256.50" x2="549.20" y2="283.50" stroke="#3b2f3b" stroke-width="0.7" />
<line x1="559.40" y1="256.50" x2="559.40" y2="272.00" stroke="#3b2f3b" stroke-width="0.7" />
<line x1="540.90" y1="271.20" x2="544.50" y2="271.20" stroke="#3b2f3b" stroke-width="0.7" />
<line x1="555.20" y1="271.20" x2="559.40" y2="271.20" stroke="#3b2f3b" stroke-width="0.7" />
<polygon points="540.90,271.20 544.30,270.35 544.30,272.05" fill="#2a202a"/>
<polygon points="559.40,271.20 556.00,270.35 556.00,272.05" fill="#2a202a"/>
<text class="sa" x="550.00" y="269.90" font-size="7.8" text-anchor="middle" font-weight="normal" fill="#1a141a"  stroke="#1a141a" stroke-width="0.3">AA</text>
<line x1="549.20" y1="282.30" x2="599.50" y2="282.30" stroke="#3b2f3b" stroke-width="0.7" />
<line x1="608.50" y1="282.30" x2="658.40" y2="282.30" stroke="#3b2f3b" stroke-width="0.7" />
<polygon points="549.20,282.30 554.00,281.45 554.00,283.15" fill="#2a202a"/>
<polygon points="658.40,282.30 653.60,281.45 653.60,283.15" fill="#2a202a"/>
<text class="sa" x="604.00" y="280.50" font-size="7.8" text-anchor="middle" font-weight="normal" fill="#1a141a" letter-spacing="0.25" stroke="#1a141a" stroke-width="0.3">A</text>
<line x1="540.90" y1="300.40" x2="597.00" y2="300.40" stroke="#3b2f3b" stroke-width="0.7" />
<line x1="611.00" y1="300.40" x2="668.00" y2="300.40" stroke="#3b2f3b" stroke-width="0.7" />
<polygon points="540.90,300.40 545.70,299.55 545.70,301.25" fill="#2a202a"/>
<polygon points="668.00,300.40 663.20,299.55 663.20,301.25" fill="#2a202a"/>
<text class="sa" x="604.00" y="298.60" font-size="7.8" text-anchor="middle" font-weight="normal" fill="#1a141a" letter-spacing="0.25" stroke="#1a141a" stroke-width="0.3">AB</text>
<text class="he" x="33.80" y="43.20" font-size="19" text-anchor="start" font-weight="bold" fill="#000" >外形及安装尺寸</text>
<text class="se" x="188.30" y="42.00" font-size="19.2" text-anchor="start" font-weight="bold" fill="#000" >Dimensions</text>
<text class="se" x="640.80" y="41.90" font-size="15.4" text-anchor="start" font-weight="bold" fill="#000" textLength="22.8" lengthAdjust="spacingAndGlyphs">mm</text>
<rect x="18.20" y="371.50" width="739.10" height="116.10" fill="none" stroke="#1c161c" stroke-width="1.9" />
<line x1="134.50" y1="394.60" x2="757.30" y2="394.60" stroke="#1c161c" stroke-width="1.3" />
<line x1="18.20" y1="417.70" x2="757.30" y2="417.70" stroke="#1c161c" stroke-width="1.9" />
<line x1="18.20" y1="464.50" x2="757.30" y2="464.50" stroke="#1c161c" stroke-width="1.9" />
<line x1="65.40" y1="440.90" x2="134.50" y2="440.90" stroke="#1c161c" stroke-width="1.3" />
<line x1="280.80" y1="440.90" x2="427.00" y2="440.90" stroke="#1c161c" stroke-width="1.3" />
<line x1="65.40" y1="371.50" x2="65.40" y2="487.60" stroke="#1c161c" stroke-width="1.3" />
<line x1="134.50" y1="371.50" x2="134.50" y2="487.60" stroke="#1c161c" stroke-width="1.9" />
<line x1="500.60" y1="371.50" x2="500.60" y2="487.60" stroke="#1c161c" stroke-width="1.9" />
<line x1="171.40" y1="394.60" x2="171.40" y2="487.60" stroke="#1c161c" stroke-width="1.3" />
<line x1="207.80" y1="394.60" x2="207.80" y2="487.60" stroke="#1c161c" stroke-width="1.3" />
<line x1="244.30" y1="394.60" x2="244.30" y2="487.60" stroke="#1c161c" stroke-width="1.3" />
<line x1="280.80" y1="394.60" x2="280.80" y2="487.60" stroke="#1c161c" stroke-width="1.3" />
<line x1="317.40" y1="394.60" x2="317.40" y2="487.60" stroke="#1c161c" stroke-width="1.3" />
<line x1="354.00" y1="394.60" x2="354.00" y2="487.60" stroke="#1c161c" stroke-width="1.3" />
<line x1="390.50" y1="394.60" x2="390.50" y2="487.60" stroke="#1c161c" stroke-width="1.3" />
<line x1="427.00" y1="394.60" x2="427.00" y2="487.60" stroke="#1c161c" stroke-width="1.3" />
<line x1="463.70" y1="394.60" x2="463.70" y2="487.60" stroke="#1c161c" stroke-width="1.3" />
<line x1="537.20" y1="394.60" x2="537.20" y2="487.60" stroke="#1c161c" stroke-width="1.3" />
<line x1="574.00" y1="394.60" x2="574.00" y2="487.60" stroke="#1c161c" stroke-width="1.3" />
<line x1="610.80" y1="394.60" x2="610.80" y2="487.60" stroke="#1c161c" stroke-width="1.3" />
<line x1="647.50" y1="394.60" x2="647.50" y2="487.60" stroke="#1c161c" stroke-width="1.3" />
<line x1="684.00" y1="394.60" x2="684.00" y2="487.60" stroke="#1c161c" stroke-width="1.3" />
<line x1="720.80" y1="394.60" x2="720.80" y2="487.60" stroke="#1c161c" stroke-width="1.3" />
<text class="se" x="41.80" y="390.80" font-size="14.3" text-anchor="middle" font-weight="300" fill="#000" >机座号</text>
<text class="sa" x="41.80" y="409.50" font-size="14.5" text-anchor="middle" font-weight="normal" fill="#000" >Frame</text>
<text class="se" x="99.95" y="390.80" font-size="14.6" text-anchor="middle" font-weight="300" fill="#000" >极数</text>
<text class="se" x="99.95" y="409.50" font-size="14.6" text-anchor="middle" font-weight="normal" fill="#000" >poles</text>
<text class="se" x="211.50" y="388.80" font-size="14.2" text-anchor="start" font-weight="300" fill="#000" >安装尺寸</text>
<text class="se" x="298.00" y="388.70" font-size="14.45" text-anchor="start" font-weight="normal" fill="#000" >Mounting Dimension</text>
<text class="se" x="538.00" y="388.80" font-size="14.2" text-anchor="start" font-weight="300" fill="#000" >外形尺寸</text>
<text class="se" x="610.00" y="388.70" font-size="14.45" text-anchor="start" font-weight="normal" fill="#000" >Overall Dimension</text>
<text class="se" x="152.95" y="411.74" font-size="14.3" text-anchor="middle" font-weight="normal" fill="#000" >A</text>
<text class="se" x="189.60" y="411.74" font-size="14.3" text-anchor="middle" font-weight="normal" fill="#000" >B</text>
<text class="se" x="226.05" y="411.74" font-size="14.3" text-anchor="middle" font-weight="normal" fill="#000" >B1</text>
<text class="se" x="262.55" y="411.74" font-size="14.3" text-anchor="middle" font-weight="normal" fill="#000" >C</text>
<text class="se" x="299.10" y="411.74" font-size="14.3" text-anchor="middle" font-weight="normal" fill="#000" >D</text>
<text class="se" x="335.70" y="411.74" font-size="14.3" text-anchor="middle" font-weight="normal" fill="#000" >E</text>
<text class="se" x="372.25" y="411.74" font-size="14.3" text-anchor="middle" font-weight="normal" fill="#000" >F</text>
<text class="se" x="408.75" y="411.74" font-size="14.3" text-anchor="middle" font-weight="normal" fill="#000" >G</text>
<text class="se" x="445.35" y="411.74" font-size="14.3" text-anchor="middle" font-weight="normal" fill="#000" >H</text>
<text class="se" x="482.15" y="411.74" font-size="14.3" text-anchor="middle" font-weight="normal" fill="#000" >K</text>
<text class="se" x="518.90" y="411.74" font-size="14.3" text-anchor="middle" font-weight="normal" fill="#000" >AA</text>
<text class="se" x="555.60" y="411.74" font-size="14.3" text-anchor="middle" font-weight="normal" fill="#000" >AB</text>
<text class="se" x="592.40" y="411.74" font-size="14.3" text-anchor="middle" font-weight="normal" fill="#000" >AC</text>
<text class="se" x="629.15" y="411.74" font-size="14.3" text-anchor="middle" font-weight="normal" fill="#000" >BB</text>
<text class="se" x="665.75" y="411.74" font-size="14.3" text-anchor="middle" font-weight="normal" fill="#000" >HA</text>
<text class="se" x="702.40" y="411.74" font-size="14.3" text-anchor="middle" font-weight="normal" fill="#000" >HD</text>
<text class="se" x="739.05" y="411.74" font-size="14.3" text-anchor="middle" font-weight="normal" fill="#000" >L</text>
<text class="se" x="41.80" y="446.39" font-size="14.3" text-anchor="middle" font-weight="normal" fill="#000" >400</text>
<text class="se" x="99.95" y="434.59" font-size="14.3" text-anchor="middle" font-weight="normal" fill="#000" >2</text>
<text class="se" x="99.95" y="458.29" font-size="14.3" text-anchor="middle" font-weight="normal" fill="#000" >4～12</text>
<text class="se" x="152.95" y="446.39" font-size="14.3" text-anchor="middle" font-weight="normal" fill="#000" >686</text>
<text class="se" x="189.60" y="446.39" font-size="14.3" text-anchor="middle" font-weight="normal" fill="#000" >710</text>
<text class="se" x="226.05" y="446.39" font-size="14.3" text-anchor="middle" font-weight="normal" fill="#000" >630</text>
<text class="se" x="262.55" y="446.39" font-size="14.3" text-anchor="middle" font-weight="normal" fill="#000" >280</text>
<text class="se" x="445.35" y="446.39" font-size="14.3" text-anchor="middle" font-weight="normal" fill="#000" >400</text>
<text class="se" x="482.15" y="446.39" font-size="14.3" text-anchor="middle" font-weight="normal" fill="#000" >35</text>
<text class="se" x="518.90" y="446.39" font-size="14.3" text-anchor="middle" font-weight="normal" fill="#000" >140</text>
<text class="se" x="555.60" y="446.39" font-size="14.3" text-anchor="middle" font-weight="normal" fill="#000" >820</text>
<text class="se" x="592.40" y="446.39" font-size="14.3" text-anchor="middle" font-weight="normal" fill="#000" >890</text>
<text class="se" x="629.15" y="446.39" font-size="14.3" text-anchor="middle" font-weight="normal" fill="#000" >1100</text>
<text class="se" x="665.75" y="446.39" font-size="14.3" text-anchor="middle" font-weight="normal" fill="#000" >45</text>
<text class="se" x="702.40" y="446.39" font-size="14.3" text-anchor="middle" font-weight="normal" fill="#000" >1160</text>
<text class="se" x="739.05" y="446.39" font-size="14.3" text-anchor="middle" font-weight="normal" fill="#000" >1900</text>
<text class="se" x="299.10" y="434.59" font-size="14.3" text-anchor="middle" font-weight="normal" fill="#000" >85</text>
<text class="se" x="335.70" y="434.59" font-size="14.3" text-anchor="middle" font-weight="normal" fill="#000" >170</text>
<text class="se" x="372.25" y="434.59" font-size="14.3" text-anchor="middle" font-weight="normal" fill="#000" >22</text>
<text class="se" x="408.75" y="434.59" font-size="14.3" text-anchor="middle" font-weight="normal" fill="#000" >76</text>
<text class="se" x="299.10" y="458.29" font-size="14.3" text-anchor="middle" font-weight="normal" fill="#000" >120</text>
<text class="se" x="335.70" y="458.29" font-size="14.3" text-anchor="middle" font-weight="normal" fill="#000" >210</text>
<text class="se" x="372.25" y="458.29" font-size="14.3" text-anchor="middle" font-weight="normal" fill="#000" >32</text>
<text class="se" x="408.75" y="458.29" font-size="14.3" text-anchor="middle" font-weight="normal" fill="#000" >109</text>
<text class="se" x="41.80" y="481.54" font-size="14.3" text-anchor="middle" font-weight="normal" fill="#000" >450</text>
<text class="se" x="99.95" y="481.54" font-size="14.3" text-anchor="middle" font-weight="normal" fill="#000" >4～12</text>
<text class="se" x="152.95" y="481.54" font-size="14.3" text-anchor="middle" font-weight="normal" fill="#000" >800</text>
<text class="se" x="189.60" y="481.54" font-size="14.3" text-anchor="middle" font-weight="normal" fill="#000" >1120</text>
<text class="se" x="226.05" y="481.54" font-size="14.3" text-anchor="middle" font-weight="normal" fill="#000" >790</text>
<text class="se" x="262.55" y="481.54" font-size="14.3" text-anchor="middle" font-weight="normal" fill="#000" >280</text>
<text class="se" x="299.10" y="481.54" font-size="14.3" text-anchor="middle" font-weight="normal" fill="#000" >130</text>
<text class="se" x="335.70" y="481.54" font-size="14.3" text-anchor="middle" font-weight="normal" fill="#000" >250</text>
<text class="se" x="372.25" y="481.54" font-size="14.3" text-anchor="middle" font-weight="normal" fill="#000" >32</text>
<text class="se" x="408.75" y="481.54" font-size="14.3" text-anchor="middle" font-weight="normal" fill="#000" >119</text>
<text class="se" x="445.35" y="481.54" font-size="14.3" text-anchor="middle" font-weight="normal" fill="#000" >450</text>
<text class="se" x="482.15" y="481.54" font-size="14.3" text-anchor="middle" font-weight="normal" fill="#000" >42</text>
<text class="se" x="518.90" y="481.54" font-size="14.3" text-anchor="middle" font-weight="normal" fill="#000" >155</text>
<text class="se" x="555.60" y="481.54" font-size="14.3" text-anchor="middle" font-weight="normal" fill="#000" >950</text>
<text class="se" x="592.40" y="481.54" font-size="14.3" text-anchor="middle" font-weight="normal" fill="#000" >960</text>
<text class="se" x="629.15" y="481.54" font-size="14.3" text-anchor="middle" font-weight="normal" fill="#000" >1460</text>
<text class="se" x="665.75" y="481.54" font-size="14.3" text-anchor="middle" font-weight="normal" fill="#000" >50</text>
<text class="se" x="702.40" y="481.54" font-size="14.3" text-anchor="middle" font-weight="normal" fill="#000" >1250</text>
<text class="se" x="739.05" y="481.54" font-size="14.3" text-anchor="middle" font-weight="normal" fill="#000" >2300</text>
<text class="sa" x="33.20" y="523.40" font-size="19" text-anchor="start" font-weight="bold" fill="#000" >*</text>
<text class="se" x="47.80" y="519.30" font-size="14.4" text-anchor="start" font-weight="300" fill="#000" >表中外形尺寸为电机最大外形尺寸，实际情况以实物为准。</text>
<text class="sa" x="430.30" y="519.60" font-size="14.4" text-anchor="start" font-weight="normal" fill="#000" >Data subject to change without notice.</text>
<defs><pattern id="hat" width="2.2" height="2.2" patternUnits="userSpaceOnUse" patternTransform="rotate(-45)"><rect width="2.2" height="2.2" fill="#e9e2e9"/><line x1="0" y1="0" x2="0" y2="2.2" stroke="#5a4c5a" stroke-width="1.1"/></pattern><clipPath id="shc"><circle cx="68.8" cy="193.9" r="8.5"/></clipPath></defs>
<path d="M61.20,190.10 A8.5,8.5 0 1 1 61.20,197.70 L61.20,196.00 L62.60,196.00 L62.60,191.80 L61.20,191.80 Z" fill="url(#hat)" stroke="#3b2f3b" stroke-width="0.9"/>
<line x1="59.30" y1="193.90" x2="79.30" y2="193.90" stroke="#3b2f3b" stroke-width="0.7" />
<line x1="68.80" y1="183.90" x2="68.80" y2="204.40" stroke="#3b2f3b" stroke-width="0.7" />
<line x1="68.80" y1="185.30" x2="92.60" y2="185.30" stroke="#3b2f3b" stroke-width="0.7" />
<line x1="74.00" y1="202.50" x2="92.60" y2="202.50" stroke="#3b2f3b" stroke-width="0.7" />
<line x1="91.70" y1="185.30" x2="91.70" y2="202.50" stroke="#3b2f3b" stroke-width="0.7" />
<polygon points="91.70,185.30 90.85,190.10 92.55,190.10" fill="#2a202a"/>
<polygon points="91.70,202.50 90.85,197.70 92.55,197.70" fill="#2a202a"/>
<text class="sa" x="89.80" y="194.00" font-size="7.6" text-anchor="middle" font-weight="normal" fill="#1a141a" transform="rotate(-90 89.80 194.00)"  stroke="#1a141a" stroke-width="0.3">D</text>
<line x1="49.20" y1="192.00" x2="61.50" y2="192.00" stroke="#3b2f3b" stroke-width="0.7" />
<line x1="49.20" y1="196.00" x2="61.50" y2="196.00" stroke="#3b2f3b" stroke-width="0.7" />
<line x1="49.90" y1="186.00" x2="49.90" y2="192.00" stroke="#3b2f3b" stroke-width="0.7" />
<line x1="49.90" y1="196.00" x2="49.90" y2="202.60" stroke="#3b2f3b" stroke-width="0.7" />
<polygon points="49.90,192.00 49.05,187.20 50.75,187.20" fill="#2a202a"/>
<polygon points="49.90,196.00 49.05,200.80 50.75,200.80" fill="#2a202a"/>
<text class="sa" x="47.60" y="194.20" font-size="7.6" text-anchor="middle" font-weight="normal" fill="#1a141a" transform="rotate(-90 47.60 194.20)"  stroke="#1a141a" stroke-width="0.3">F</text>
<line x1="60.60" y1="199.00" x2="60.60" y2="214.00" stroke="#3b2f3b" stroke-width="0.7" />
<line x1="77.00" y1="199.00" x2="77.00" y2="214.00" stroke="#3b2f3b" stroke-width="0.7" />
<line x1="54.80" y1="213.10" x2="64.00" y2="213.10" stroke="#3b2f3b" stroke-width="0.7" />
<line x1="73.50" y1="213.10" x2="83.20" y2="213.10" stroke="#3b2f3b" stroke-width="0.7" />
<polygon points="60.60,213.10 55.80,212.25 55.80,213.95" fill="#2a202a"/>
<polygon points="77.00,213.10 81.80,212.25 81.80,213.95" fill="#2a202a"/>
<text class="sa" x="69.00" y="211.80" font-size="7.6" text-anchor="middle" font-weight="normal" fill="#1a141a"  stroke="#1a141a" stroke-width="0.3">G</text>
</svg>
</body></html>
